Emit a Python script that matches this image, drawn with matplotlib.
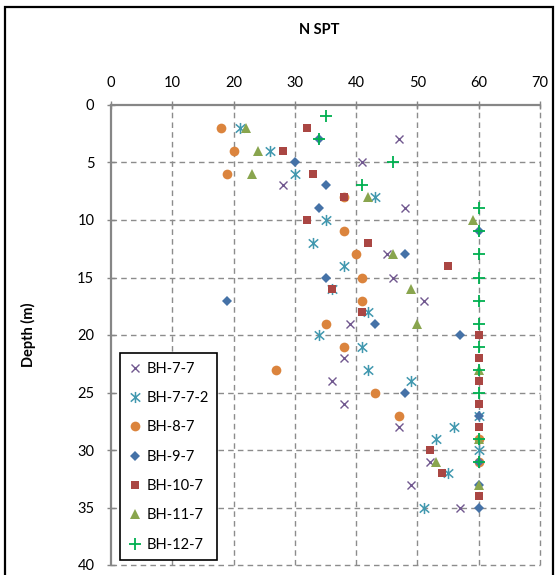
import matplotlib
matplotlib.use("Agg")
import matplotlib.pyplot as plt
from matplotlib.path import Path
from matplotlib.lines import Line2D
from matplotlib.patches import Rectangle

plt.rcParams['font.family'] = ['Lato', 'DejaVu Sans']

# ---- data (N SPT value, depth m) ----
bh77_n = [47, 41, 28, 48, 45, 46, 51, 39, 38, 36, 38, 47, 52, 49, 57]
bh77_d = [3, 5, 7, 9, 13, 15, 17, 19, 22, 24, 26, 28, 31, 33, 35]

bh772_n = [21, 26, 30, 43, 35, 33, 38, 36, 42, 34, 41, 42, 49, 60, 56, 53, 60, 55, 51]
bh772_d = [2, 4, 6, 8, 10, 12, 14, 16, 18, 20, 21, 23, 24, 27, 28, 29, 30, 32, 35]

bh87_n = [18, 20, 19, 38, 38, 40, 41, 41, 35, 38, 27, 43, 47, 60, 60]
bh87_d = [2, 4, 6, 8, 11, 13, 15, 17, 19, 21, 23, 25, 27, 29, 31]

bh97_n = [34, 30, 35, 34, 60, 48, 35, 19, 43, 57, 48, 60, 60, 60, 60]
bh97_d = [3, 5, 7, 9, 11, 13, 15, 17, 19, 20, 25, 27, 31, 33, 35]

bh107_n = [32, 28, 33, 38, 32, 42, 55, 36, 41, 60, 60, 60, 60, 60, 52, 54, 60]
bh107_d = [2, 4, 6, 8, 10, 12, 14, 16, 18, 20, 22, 24, 26, 28, 30, 32, 34]

bh117_n = [22, 24, 23, 42, 59, 46, 49, 50, 60, 60, 53, 60]
bh117_d = [2, 4, 6, 8, 10, 13, 16, 19, 23, 29, 31, 33]

bh127_n = [35, 34, 46, 41, 60, 60, 60, 60, 60, 60, 60, 60, 60, 60, 60]
bh127_d = [1, 3, 5, 7, 9, 11, 13, 15, 17, 19, 21, 23, 25, 29, 31]

x_ticks = [0, 10, 20, 30, 40, 50, 60, 70]
y_ticks = [0, 5, 10, 15, 20, 25, 30, 35, 40]

# asterisk marker: vertical bar + X
star_path = Path([(0, -1), (0, 1), (-0.85, -0.75), (0.85, 0.75), (-0.85, 0.75), (0.85, -0.75)],
                 [Path.MOVETO, Path.LINETO, Path.MOVETO, Path.LINETO, Path.MOVETO, Path.LINETO])

W, H = 558, 575
fig = plt.figure(figsize=(W / 100, H / 100), dpi=100)
ax = fig.add_axes([111 / W, 1 - 565 / H, (540 - 111) / W, (565 - 105) / H])

series = [
    ("BH-7-7", bh77_n, bh77_d, dict(marker='x', ms=6.3, mfc='none', mec='#71588F', mew=1.0)),
    ("BH-7-7-2", bh772_n, bh772_d, dict(marker=star_path, ms=8, mfc='none', mec='#4198AF', mew=1.1)),
    ("BH-8-7", bh87_n, bh87_d, dict(marker='o', ms=7, mfc='#DB843D', mec='#DB843D', mew=0)),
    ("BH-9-7", bh97_n, bh97_d, dict(marker='D', ms=5.6, mfc='#4572A7', mec='#4572A7', mew=0)),
    ("BH-10-7", bh107_n, bh107_d, dict(marker='s', ms=5.8, mfc='#AA4643', mec='#AA4643', mew=0)),
    ("BH-11-7", bh117_n, bh117_d, dict(marker='^', ms=7.5, mfc='#89A54E', mec='#89A54E', mew=0)),
    ("BH-12-7", bh127_n, bh127_d, dict(marker='+', ms=8.5, mfc='none', mec='#00B050', mew=1.3)),
]

handles = []
for name, xs, ys, st in series:
    ax.plot(xs, ys, linestyle='none', clip_on=False, zorder=3, **st)
    handles.append(Line2D([], [], linestyle='none', label=name, **st))

ax.set_xlim(0, 70)
ax.set_ylim(40, 0)
ax.xaxis.tick_top()
ax.set_xticks(x_ticks)
ax.set_yticks(y_ticks)
ax.tick_params(axis='both', direction='inout', length=6, width=1, color='#868686',
               labelsize=10.5, labelcolor='black')
ax.tick_params(axis='x', pad=8)
ax.tick_params(axis='y', pad=9)

for s in ['right', 'bottom']:
    ax.spines[s].set_visible(False)
for s in ['left', 'top']:
    ax.spines[s].set_color('#868686')
    ax.spines[s].set_linewidth(1.6)

grid_kw = dict(color='#8c8c8c', linestyle=(0, (4, 3)), linewidth=1.0, zorder=1, clip_on=False)
for xv in x_ticks[1:]:
    ax.axvline(xv, **grid_kw)
for yv in y_ticks[1:]:
    ax.axhline(yv, **grid_kw)

fig.text(319 / W, 1 - 30 / H, "N SPT", ha='center', va='center', fontsize=10.5, fontweight='bold')
fig.text(28 / W, 1 - 335 / H, "Depth (m)", ha='center', va='center', rotation=90,
         fontsize=10.5, fontweight='bold')

# outer chart border
fig.patches.append(Rectangle((5 / W, -0.01), (553 - 5) / W, 1 - 7 / H + 0.01,
                             transform=fig.transFigure, fill=False, edgecolor='black',
                             linewidth=1.6))

# legend
leg = ax.legend(handles=handles, loc='upper left',
                bbox_to_anchor=((120 - 111) / (540 - 111), 1 - (353 - 105) / (565 - 105),),
                frameon=True, fancybox=False, edgecolor='black', framealpha=1,
                fontsize=10.5, labelspacing=1.05, handlelength=0.8, handletextpad=0.4,
                borderpad=0.6, borderaxespad=0)
leg.get_frame().set_linewidth(1.2)
leg.set_zorder(5)
for t in leg.get_texts():
    t.set_color('black')

fig.savefig("out.png", dpi=100)
